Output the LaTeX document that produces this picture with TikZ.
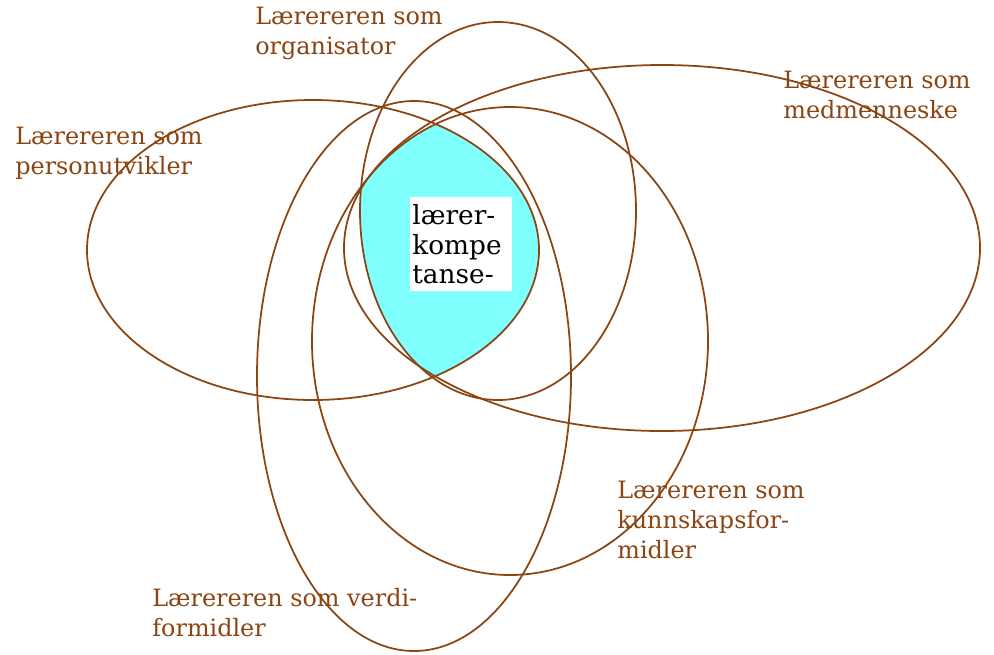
\documentclass[tikz,border=0pt]{standalone}
\usepackage{fontspec}
\newfontfamily\rollefont{DejaVu Serif}
\usetikzlibrary{positioning}

\definecolor{brunlinje}{RGB}{139,69,19}
\definecolor{turkis}{RGB}{128,255,255}

% the five role ellipses (pixel units, y downwards)
\newcommand{\ellOrganisator}{(498,211) ellipse [x radius=138, y radius=189]}
\newcommand{\ellPerson}{(313,250) ellipse [x radius=226, y radius=150]}
\newcommand{\ellMedmenneske}{(662,248) ellipse [x radius=318, y radius=183]}
\newcommand{\ellKunnskap}{(510,341) ellipse [x radius=198, y radius=234]}
\newcommand{\ellVerdi}{(414,376) ellipse [x radius=157, y radius=275]}

\begin{document}
\begin{tikzpicture}[
    x=0.02cm, y=-0.02cm,
    % Styles
    rolle/.style={
        draw=brunlinje, line width=1pt
    },
    etikett/.style={
        anchor=north west, inner sep=0pt, align=left, text=brunlinje,
        font=\rollefont\fontsize{13.6}{17}\selectfont
    },
    kjerne/.style={
        fill=white, anchor=north west, inner xsep=0.04cm, inner ysep=0pt,
        text width=1.96cm, minimum height=1.88cm, align=left,
        font=\rollefont\fontsize{15}{16.8}\selectfont
    }
]
\useasboundingbox (0,0) rectangle (994,654);

% ── Common core (intersection of all roles) ────────────────────────────────
\begin{scope}
    \clip \ellOrganisator;
    \clip \ellPerson;
    \clip \ellMedmenneske;
    \clip \ellKunnskap;
    \clip \ellVerdi;
    \fill[turkis] (0,0) rectangle (994,654);
\end{scope}

% ── Role ellipses ──────────────────────────────────────────────────────────
\draw[rolle] \ellOrganisator;
\draw[rolle] \ellPerson;
\draw[rolle] \ellMedmenneske;
\draw[rolle] \ellKunnskap;
\draw[rolle] \ellVerdi;

% ── Core label ─────────────────────────────────────────────────────────────
\node[kjerne] (kompetanse) at (410,197) {lærer-\\kompe\\tanse-};

% ── Role labels ────────────────────────────────────────────────────────────
\node[etikett] (organisator) at (255,7) {Lærereren som\\organisator};
\node[etikett] (personutvikler) at (15,127) {Lærereren som\\personutvikler};
\node[etikett] (medmenneske) at (783,71) {Lærereren som\\medmenneske};
\node[etikett] (kunnskap) at (617,481) {Lærereren som\\kunnskapsfor-\\midler};
\node[etikett] (verdi) at (152,588) {Lærereren som verdi-\\formidler};

\end{tikzpicture}
\end{document}
